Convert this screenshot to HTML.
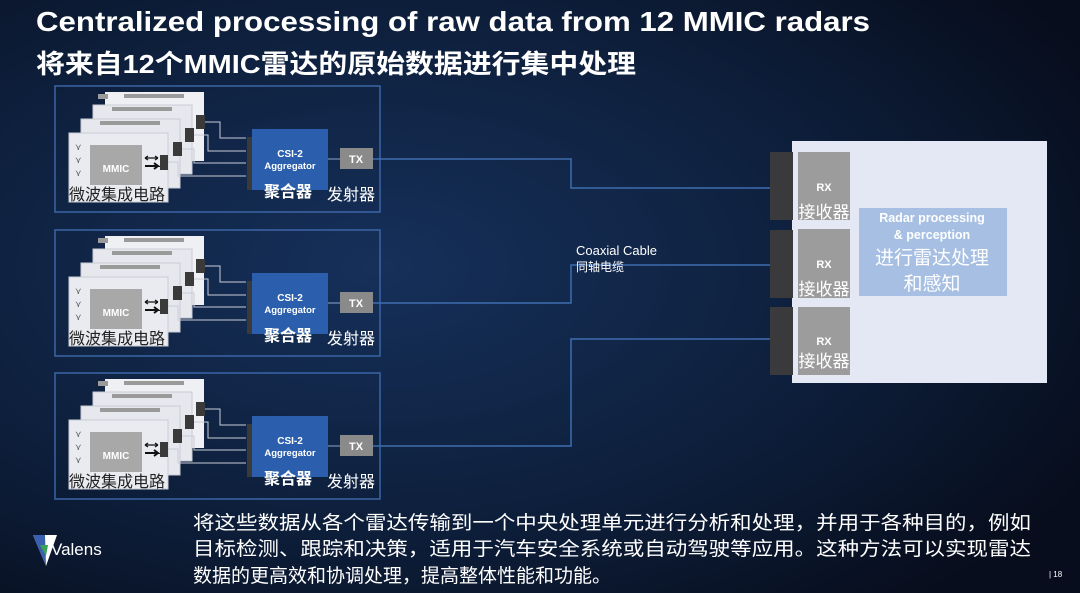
<!DOCTYPE html>
<html><head><meta charset="utf-8"><style>
html,body{margin:0;padding:0;width:1080px;height:593px;overflow:hidden;background:#0b1628}
svg{display:block}
text{font-family:"Liberation Sans","Noto Sans CJK SC",sans-serif}
</style></head><body>
<svg width="1080" height="593" viewBox="0 0 1080 593" xmlns="http://www.w3.org/2000/svg">
<defs>
<radialGradient id="bg" cx="0.35" cy="0.45" r="0.75">
<stop offset="0" stop-color="#16305a"/><stop offset="0.6" stop-color="#0d1e3a"/><stop offset="1" stop-color="#070d1c"/>
</radialGradient>
<g id="grp">
<rect x="55" y="86" width="325" height="126" fill="none" stroke="#3b64a6" stroke-width="1.5"/>
<!-- back cards -->
<rect x="105" y="92" width="99" height="69" fill="#eef0f4"/>
<rect x="98" y="94" width="10" height="5" fill="#9a9a9a"/><rect x="124" y="94" width="60" height="4" fill="#9a9a9a"/>
<rect x="196" y="115" width="9" height="14" fill="#3a3a3a"/>
<rect x="93" y="105" width="99" height="69" fill="#e6e8ee" stroke="#c9ccd4"/>
<rect x="112" y="107" width="60" height="4" fill="#9a9a9a"/>
<rect x="185" y="128" width="9" height="14" fill="#3a3a3a"/>
<rect x="81" y="119" width="99" height="69" fill="#e6e8ee" stroke="#c9ccd4"/>
<rect x="100" y="121" width="60" height="4" fill="#9a9a9a"/>
<rect x="173" y="142" width="9" height="14" fill="#3a3a3a"/>
<rect x="69" y="133" width="99" height="69" fill="#e9ebf0" stroke="#c9ccd4"/>
<rect x="90" y="145" width="52" height="40" fill="#a8a8a8"/>
<text x="116" y="172" font-size="10" font-weight="bold" fill="#fff" text-anchor="middle">MMIC</text>
<text x="75" y="150" font-size="9" fill="#555">⋎</text><text x="75" y="163" font-size="9" fill="#555">⋎</text><text x="75" y="176" font-size="9" fill="#555">⋎</text>
<path d="M145 158h13M145 158l3-2M145 158l3 2M158 158l-3-2M158 158l-3 2" stroke="#111" stroke-width="1.3" fill="none"/>
<path d="M145 166h13l-4-3M158 166l-4 3" stroke="#111" stroke-width="2" fill="none"/>
<rect x="160" y="155" width="8" height="15" fill="#3a3a3a"/>
<text x="69" y="200" font-size="16" fill="#222">微波集成电路</text>
<!-- wires -->
<path d="M205 122h15v16h26M194 135h14v16h38M182 149h12v14h52M168 162h10v14h68" stroke="#c8ccd6" stroke-width="1" fill="none"/>
<rect x="247" y="137" width="7" height="53" fill="#3a3a3a"/>
<rect x="252" y="129" width="76" height="61" fill="#2b5fae"/>
<text x="290" y="157" font-size="10" font-weight="bold" fill="#fff" text-anchor="middle">CSI-2</text>
<text x="290" y="169" font-size="9.5" font-weight="bold" fill="#fff" text-anchor="middle">Aggregator</text>
<text x="288" y="197" font-size="16" font-weight="bold" fill="#fff" text-anchor="middle">聚合器</text>
<path d="M328 159h12" stroke="#8aa6d0" stroke-width="1"/>
<rect x="340" y="148" width="33" height="21" fill="#8a8a8a"/>
<text x="356" y="163" font-size="11" font-weight="bold" fill="#fff" text-anchor="middle">TX</text>
<text x="327" y="200" font-size="16" fill="#fff">发射器</text>
</g>
</defs>
<rect width="1080" height="593" fill="url(#bg)"/>
<text x="36" y="31" font-size="28" font-weight="bold" fill="#fff" textLength="834" lengthAdjust="spacingAndGlyphs">Centralized processing of raw data from 12 MMIC radars</text>
<text x="36" y="73" font-size="26" font-weight="bold" fill="#fff" textLength="600" lengthAdjust="spacingAndGlyphs">将来自12个MMIC雷达的原始数据进行集中处理</text>
<use href="#grp"/>
<use href="#grp" y="144"/>
<use href="#grp" y="287"/>
<!-- cables -->
<path d="M373 159H571V188H771M373 303H571V265H771M373 446H571V339H771" stroke="#3e6db0" stroke-width="1.5" fill="none"/>
<text x="576" y="255" font-size="13" fill="#fff">Coaxial Cable</text>
<text x="576" y="271" font-size="12" fill="#fff">同轴电缆</text>
<!-- right panel -->
<rect x="792" y="141" width="255" height="242" fill="#e4e8f4"/>
<rect x="770" y="152" width="23" height="68" fill="#3a3a3c"/>
<rect x="770" y="230" width="23" height="68" fill="#3a3a3c"/>
<rect x="770" y="307" width="23" height="68" fill="#3a3a3c"/>
<rect x="798" y="152" width="52" height="68" fill="#9c9c9c"/>
<rect x="798" y="229" width="52" height="69" fill="#9c9c9c"/>
<rect x="798" y="307" width="52" height="68" fill="#9c9c9c"/>
<text x="824" y="191" font-size="11" font-weight="bold" fill="#fff" text-anchor="middle">RX</text>
<text x="824" y="218" font-size="17" fill="#fff" text-anchor="middle">接收器</text>
<text x="824" y="268" font-size="11" font-weight="bold" fill="#fff" text-anchor="middle">RX</text>
<text x="824" y="295" font-size="17" fill="#fff" text-anchor="middle">接收器</text>
<text x="824" y="345" font-size="11" font-weight="bold" fill="#fff" text-anchor="middle">RX</text>
<text x="824" y="367" font-size="17" fill="#fff" text-anchor="middle">接收器</text>
<rect x="859" y="208" width="148" height="88" fill="#a6bfe2"/>
<text x="932" y="222" font-size="12.5" font-weight="bold" fill="#fff" text-anchor="middle">Radar processing</text>
<text x="932" y="239" font-size="12.5" font-weight="bold" fill="#fff" text-anchor="middle">&amp; perception</text>
<text x="932" y="264" font-size="19" fill="#fff" text-anchor="middle">进行雷达处理</text>
<text x="932" y="290" font-size="19" fill="#fff" text-anchor="middle">和感知</text>
<!-- bottom -->
<polygon points="33,535 57,535 46,566" fill="#ffffff"/>
<polygon points="33,535 45,535 46,566" fill="#3a5fb0"/>
<polygon points="40,545 48,545 46,556" fill="#3aa35a"/>
<text x="51" y="555" font-size="17" fill="#fff">Valens</text>
<text x="193" y="529" font-size="19" fill="#fff" textLength="838" lengthAdjust="spacingAndGlyphs">将这些数据从各个雷达传输到一个中央处理单元进行分析和处理，并用于各种目的，例如</text>
<text x="193" y="555" font-size="19" fill="#fff" textLength="838" lengthAdjust="spacingAndGlyphs">目标检测、跟踪和决策，适用于汽车安全系统或自动驾驶等应用。这种方法可以实现雷达</text>
<text x="193" y="582" font-size="19" fill="#fff" textLength="418" lengthAdjust="spacingAndGlyphs">数据的更高效和协调处理，提高整体性能和功能。</text>
<text x="1049" y="577" font-size="8" fill="#fff">| 18</text>
</svg>
</body></html>
